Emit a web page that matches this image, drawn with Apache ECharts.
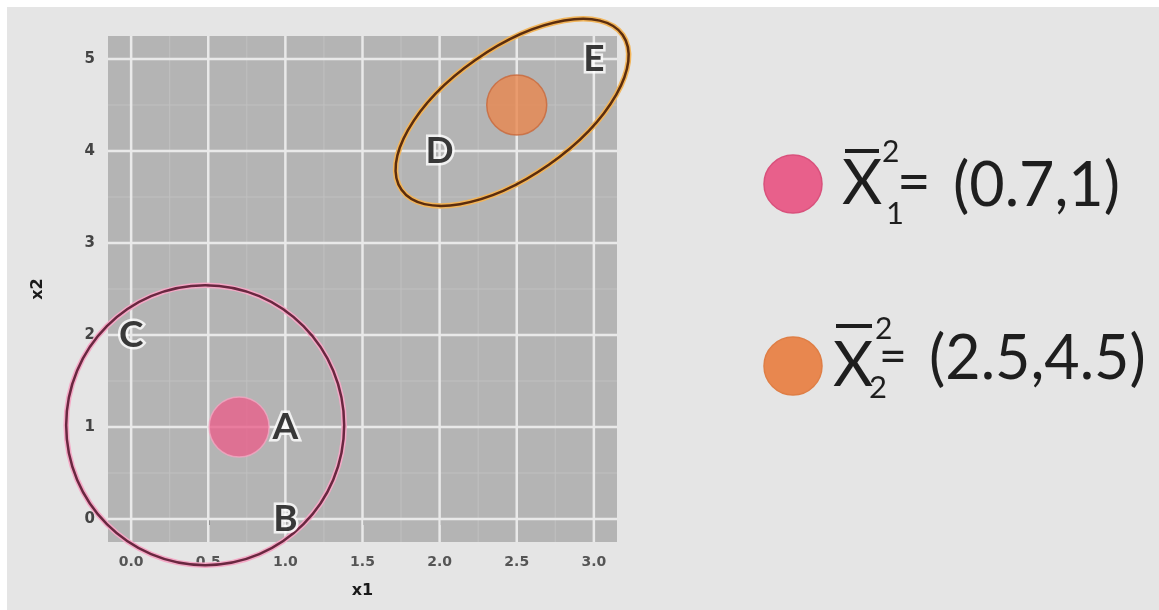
<!DOCTYPE html>
<html>
<head>
<meta charset="utf-8">
<script src="https://cdn.jsdelivr.net/npm/echarts@6/dist/echarts.min.js"></script>
<style>
  html, body { margin: 0; padding: 0; background: #ffffff; }
  #frame { position: absolute; left: 7px; top: 7px; width: 1152px; height: 603px; background: #e5e5e5; }
  #chart { position: absolute; left: 0; top: 0; width: 1159px; height: 610px; }
</style>
</head>
<body>
<div id="frame"></div>
<div id="chart"></div>
<script>
// Observations
const pointNames = ['A', 'B', 'C', 'D', 'E'];
const x1Values = [1, 1, 0, 2, 3];
const x2Values = [1, 0, 2, 4, 5];

// Cluster centroids
const centroidX1 = [0.7, 2.5];
const centroidX2 = [1, 4.5];
const centroidColors = ['#e8608b', '#e8874f'];

// Axis ticks and minor grid positions
const xTicks = [0, 0.5, 1, 1.5, 2, 2.5, 3];
const yTicks = [0, 1, 2, 3, 4, 5];
const xMinor = [0.25, 0.75, 1.25, 1.75, 2.25, 2.75];
const yMinor = [0.5, 1.5, 2.5, 3.5, 4.5];

// Cluster outlines: centre in data units
const ringCentreX1 = [0.48, 2.47];
const ringCentreX2 = [1.02, 4.42];

// Outline geometry (pixels / degrees) and colours
const ringShapes = [
  { rx: 139, ry: 140, angle: 0, glow: '#f4a9c6', stroke: '#6a2740' },
  { rx: 135, ry: 64, angle: 35, glow: '#f2b55a', stroke: '#5b2d0e' }
];

const chart = echarts.init(document.getElementById('chart'), null, { renderer: 'canvas' });

function gridLineSeries(values, dir, color, width) {
  return {
    type: 'custom',
    silent: true,
    clip: false,
    z: 1,
    data: values.map(v => dir === 'v' ? [v, 0] : [0, v]),
    renderItem(params, api) {
      const cs = params.coordSys;
      if (dir === 'v') {
        const p = api.coord([api.value(0), 0]);
        return { type: 'line', shape: { x1: p[0], y1: cs.y, x2: p[0], y2: cs.y + cs.height },
                 style: { stroke: color, lineWidth: width } };
      }
      const p = api.coord([0, api.value(1)]);
      return { type: 'line', shape: { x1: cs.x, y1: p[1], x2: cs.x + cs.width, y2: p[1] },
               style: { stroke: color, lineWidth: width } };
    }
  };
}

// Legend on the right, built from the centroid arrays
const legendRows = [
  { dotY: 184, xLeft: 842, barY: 151, barW: 34, supX: 882, supY: 152, subX: 886, subY: 214, eqX: 897, eqY: 183, eqSize: 58, valX: 953, valY: 186 },
  { dotY: 366, xLeft: 833, barY: 326, barW: 36, supX: 875, supY: 329, subX: 869, subY: 388, eqX: 879, eqY: 358, eqSize: 48, valX: 929, valY: 359 }
];
const legendGraphics = [];
legendRows.forEach((r, i) => {
  const font = 'Lato, "Noto Sans", sans-serif';
  legendGraphics.push(
    { type: 'circle', shape: { cx: 793, cy: r.dotY, r: 29 },
      style: { fill: centroidColors[i], stroke: i === 0 ? '#d9517c' : '#df7e45', lineWidth: 1.5 } },
    { type: 'text', x: r.xLeft, y: r.dotY, style: { text: 'X', font: '400 62px ' + font, fill: '#1e1e1e', align: 'left', verticalAlign: 'middle' } },
    { type: 'line', shape: { x1: r.xLeft + 3, y1: r.barY, x2: r.xLeft + 3 + r.barW, y2: r.barY }, style: { stroke: '#1e1e1e', lineWidth: 4 } },
    { type: 'text', x: r.supX, y: r.supY, style: { text: '2', font: '400 30px ' + font, fill: '#1e1e1e', align: 'left', verticalAlign: 'middle' } },
    { type: 'text', x: r.subX, y: r.subY, style: { text: String(i + 1), font: '400 31px ' + font, fill: '#1e1e1e', align: 'left', verticalAlign: 'middle' } },
    { type: 'text', x: r.eqX, y: r.eqY, style: { text: '=', font: '400 ' + r.eqSize + 'px ' + font, fill: '#1e1e1e', align: 'left', verticalAlign: 'middle' } },
    { type: 'text', x: r.valX, y: r.valY, style: { text: '(' + centroidX1[i] + ',' + centroidX2[i] + ')', font: '400 61px ' + font, fill: '#1e1e1e', align: 'left', verticalAlign: 'middle' } }
  );
});

const tickLabelStyle = { color: '#555555', fontSize: 14, fontWeight: 'bold', fontFamily: '"DejaVu Sans", sans-serif' };

chart.setOption({
  animation: false,
  backgroundColor: 'transparent',
  grid: { left: 108, top: 36, width: 509, height: 506, show: true, backgroundColor: '#b4b4b4', borderWidth: 0 },
  xAxis: {
    type: 'value', min: -0.15, max: 3.15,
    name: 'x1', nameLocation: 'middle', nameGap: 41,
    nameTextStyle: { color: '#1a1a1a', fontSize: 16, fontWeight: 'bold', fontFamily: '"DejaVu Sans", sans-serif' },
    axisLine: { show: false },
    axisTick: { show: true, customValues: xTicks, length: 6, lineStyle: { color: '#3a3a3a', width: 2 } },
    axisLabel: Object.assign({ customValues: xTicks, margin: 13, formatter: v => v.toFixed(1) }, tickLabelStyle),
    splitLine: { show: false }
  },
  yAxis: {
    type: 'value', min: -0.25, max: 5.25,
    name: 'x2', nameLocation: 'middle', nameGap: 62, nameRotate: 90,
    nameTextStyle: { color: '#1a1a1a', fontSize: 16, fontWeight: 'bold', fontFamily: '"DejaVu Sans", sans-serif' },
    axisLine: { show: false },
    axisTick: { show: true, customValues: yTicks, length: 6, lineStyle: { color: '#3a3a3a', width: 2 } },
    axisLabel: Object.assign({ customValues: yTicks, margin: 13, formatter: v => String(v) }, tickLabelStyle, { fontSize: 15, color: '#444444' }),
    splitLine: { show: false }
  },
  graphic: legendGraphics,
  series: [
    gridLineSeries(xMinor, 'v', '#c0c0c0', 1),
    gridLineSeries(yMinor, 'h', '#c0c0c0', 1),
    gridLineSeries(xTicks, 'v', '#e9e9e9', 2.5),
    gridLineSeries(yTicks, 'h', '#e9e9e9', 2.5),
    {
      // centroid dots
      type: 'scatter',
      z: 3,
      symbolSize: 60,
      data: centroidX1.map((x, i) => ({
        value: [x, centroidX2[i]],
        itemStyle: { color: centroidColors[i], borderColor: i === 0 ? '#f3a6c2' : '#c9683a', borderWidth: 1.5 }
      }))
    },
    {
      // cluster outlines
      type: 'custom',
      z: 4,
      clip: false,
      silent: true,
      data: ringCentreX1.map((x, i) => [x, ringCentreX2[i]]),
      renderItem(params, api) {
        const c = api.coord([api.value(0), api.value(1)]);
        const s = ringShapes[params.dataIndex];
        const rot = s.angle * Math.PI / 180;
        return {
          type: 'group',
          children: [
            { type: 'ellipse', x: c[0], y: c[1], rotation: rot, shape: { cx: 0, cy: 0, rx: s.rx, ry: s.ry },
              style: { fill: null, stroke: s.glow, lineWidth: 5.5 } },
            { type: 'ellipse', x: c[0], y: c[1], rotation: rot, shape: { cx: 0, cy: 0, rx: s.rx, ry: s.ry },
              style: { fill: null, stroke: s.stroke, lineWidth: 2.5 } }
          ]
        };
      }
    },
    {
      // observation letters
      type: 'scatter',
      z: 5,
      symbolSize: 1,
      itemStyle: { color: 'transparent' },
      data: pointNames.map((n, i) => ({ name: n, value: [x1Values[i], x2Values[i]] })),
      label: {
        show: true, position: 'inside', formatter: p => p.name,
        fontFamily: 'Lato, "Noto Sans", sans-serif', fontSize: 37, fontWeight: 'bold',
        color: '#0a0a0a', textBorderColor: '#ffffff', textBorderWidth: 5
      }
    }
  ]
});
</script>
</body>
</html>
